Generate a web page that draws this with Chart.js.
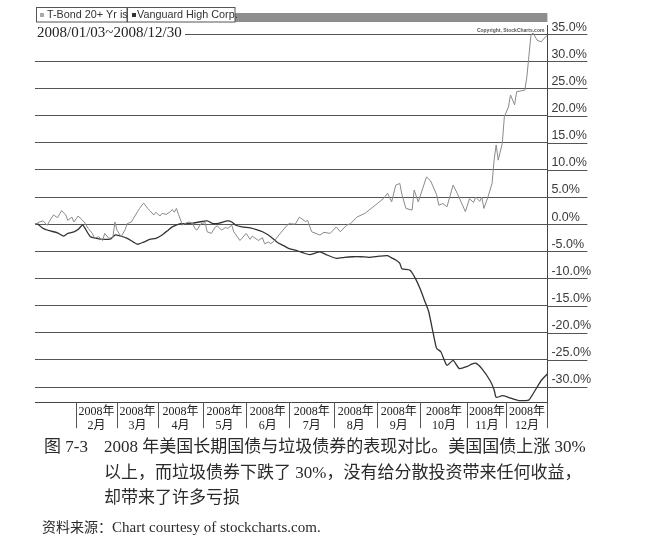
<!DOCTYPE html>
<html>
<head>
<meta charset="utf-8">
<script src="https://cdn.jsdelivr.net/npm/chart.js@4.4.1/dist/chart.umd.min.js"></script>
<style>
  body { margin: 0; background: #fff; width: 668px; height: 552px; overflow: hidden; position: relative; }
  #wrap { position: absolute; left: 0; top: 0; width: 668px; height: 440px; }
  .cap { position: absolute; font-family: "Liberation Serif", "Noto Sans CJK SC", serif; color: #2a2a2a; }
  #fig { left: 44px; top: 434px; font-size: 17px; line-height: 25.5px; }
  #txt { left: 104px; top: 434px; font-size: 17px; line-height: 25.5px; }
  #src { left: 42px; top: 517px; font-size: 15px; line-height: 20px; }
  #src span { font-size: 14px; }
</style>
</head>
<body>
<div id="wrap"><canvas id="myChart" width="668" height="440"></canvas></div>
<div class="cap" id="fig">图 7-3</div>
<div class="cap" id="txt">2008 年美国长期国债与垃圾债券的表现对比。美国国债上涨 30%<br>以上，而垃圾债券下跌了 30%，没有给分散投资带来任何收益，<br>却带来了许多亏损</div>
<div class="cap" id="src"><span>资料来源：</span>Chart courtesy of stockcharts.com.</div>
<script>
// trading-day index (0 = 2008/01/03, 250 = 2008/12/30) and % change
const tbondDay = [0, 1, 2, 4, 6, 7, 9, 11, 13, 15, 16, 18, 19, 21, 23, 24, 26, 28, 29, 31, 33, 34, 36, 38, 39, 40,
  42, 44, 45, 47, 50, 51, 53, 55, 56, 58, 59, 61, 62, 64, 66, 67, 68, 69, 70, 72, 73, 75, 77, 78, 79, 81, 83,
  84, 86, 88, 89, 91, 93, 94, 96, 97, 100, 101, 103, 105, 106, 109, 111, 112, 114, 115, 117, 119, 121, 123,
  124, 127, 129, 132, 133, 135, 139, 141, 144, 147, 149, 152, 154, 157, 161, 163, 167, 170, 172, 174, 176,
  178, 179, 181, 184, 185, 187, 191, 193, 196, 197, 199, 201, 204, 206, 210, 212, 214, 215, 217, 218, 219,
  221, 223, 224, 225, 226, 228, 229, 231, 232, 234, 235, 239, 240, 242, 243, 245, 247, 249, 250];
const tbondPct = [0, 0.1, 0.4, 0.6, -0.2, 0.5, 1.7, 1.2, 2.5, 1.7, 0.7, 1.3, 0.4, 1.5, 0.8, 0.4, -0.8, -1.7, -2.6,
  -2.3, -3.0, -1.7, -2.6, -2.4, 0.4, -1.1, -2.3, -1.0, 0.1, 0.4, 2.3, 2.9, 3.9, 2.9, 2.5, 1.7, 2.2, 1.5, 2.0,
  1.8, 2.3, 2.7, 2.2, 2.9, 1.8, -0.2, 0.1, 0.4, 0.1, -0.8, -1.1, 0.1, 0.3, -1.4, -1.7, -0.5, -0.3, -1.1, -0.6,
  -0.8, -0.2, -1.4, -3.0, -2.6, -1.7, -2.8, -2.2, -3.0, -2.5, -3.6, -3.3, -3.6, -3.0, -2.0, -1.1, -0.2, 0.1,
  0.0, 1.3, 0.5, 0.7, -1.4, -2.0, -1.5, -1.7, -0.5, -1.4, -0.2, 0.1, 1.3, 2.0, 2.6, 3.8, 4.7, 5.7, 4.1, 7.2,
  7.5, 5.5, 2.9, 2.6, 6.3, 4.1, 8.7, 8.0, 5.4, 3.5, 3.8, 3.2, 7.2, 5.7, 2.3, 4.7, 4.0, 5.0, 4.2, 5.0, 2.9,
  5.0, 7.5, 11.8, 14.6, 11.8, 14.9, 19.8, 21.6, 23.8, 22.0, 24.4, 24.7, 27.2, 34.9, 35.2, 33.9, 33.6, 34.5, 34.8];

const hyDay = [0, 1, 4, 7, 11, 14, 16, 19, 21, 23, 24, 27, 30, 33, 37, 39, 41, 45, 48, 50, 53, 56, 59, 62, 65, 67,
  71, 74, 77, 80, 84, 87, 90, 94, 96, 98, 101, 105, 108, 111, 115, 118, 121, 124, 128, 131, 134, 139, 142, 147,
  151, 155, 159, 163, 168, 172, 174, 176, 178, 179, 183, 186, 188, 190, 192, 193, 195, 196, 198, 201, 204, 207,
  211, 213, 215, 218, 222, 224, 225, 228, 231, 234, 236, 239, 241, 245, 247, 250];
const hyPct = [0, 0.1, -0.8, -1.2, -1.6, -2.2, -1.7, -1.4, -1.0, -0.2, -0.5, -2.3, -2.6, -2.8, -2.7, -2.0, -2.1,
  -2.6, -3.3, -3.7, -3.3, -2.8, -2.6, -2.0, -1.1, -0.5, 0.1, 0.1, 0.2, 0.4, 0.6, 0.1, 0.2, 0.6, 0.4, -0.2, -0.5,
  -0.7, -1.0, -1.4, -2.3, -3.3, -3.9, -4.5, -4.9, -5.3, -5.6, -5.1, -5.6, -6.3, -6.1, -6.0, -6.0, -6.1, -5.9,
  -5.8, -6.2, -6.6, -7.2, -8.2, -8.5, -10.3, -12.0, -14.0, -16.0, -17.7, -21.4, -22.9, -23.5, -26.0, -25.1,
  -26.6, -26.2, -25.8, -25.6, -26.6, -28.8, -30.5, -31.9, -31.6, -31.9, -32.3, -32.5, -32.5, -32.4, -30.0,
  -28.8, -27.6];

// month boundaries (first trading day of each month) and labels
const monthStarts = [20, 40, 60, 82, 103, 124, 146, 167, 188, 211, 230, 250];
const monthLabels = ['2月', '3月', '4月', '5月', '6月', '7月', '8月', '9月', '10月', '11月', '12月'];
const monthMids = monthLabels.map((m, i) => (monthStarts[i] + monthStarts[i + 1]) / 2);
const yTickValues = [-30, -25, -20, -15, -10, -5, 0, 5, 10, 15, 20, 25, 30, 35];

const serif = '"Liberation Serif", "Noto Sans CJK SC", serif';
const sans = '"Liberation Sans", Arial, sans-serif';

// gridline run-out under the % labels and the month separators below the plot
const axisExtras = {
  id: 'axisExtras',
  beforeDatasetsDraw(chart) {
    const c = chart.ctx;
    const area = chart.chartArea;
    const y = chart.scales.y;
    const x = chart.scales.x;
    c.save();
    c.strokeStyle = '#555';
    c.lineWidth = 1;
    c.beginPath();
    yTickValues.forEach(v => {
      const py = Math.round(y.getPixelForValue(v)) + 0.5;
      c.moveTo(area.right, py);
      c.lineTo(area.right + 40, py);
    });
    monthStarts.forEach(v => {
      const px = Math.round(x.getPixelForValue(v)) + 0.5;
      c.moveTo(px, area.bottom);
      c.lineTo(px, area.bottom + 26);
    });
    c.stroke();
    c.restore();
  }
};

// legend boxes, date range and copyright note on top of the chart
const headerPlugin = {
  id: 'header',
  afterDraw(chart) {
    const c = chart.ctx;
    const area = chart.chartArea;
    c.save();
    c.fillStyle = '#8e8e8e';
    c.fillRect(235, 13, area.right - 235, 9);
    c.fillStyle = '#fff';
    c.fillRect(36, 8, 91, 14);
    c.fillRect(127, 8, 108, 14);
    c.strokeStyle = '#555';
    c.lineWidth = 1;
    c.strokeRect(36.5, 7.5, 90.5, 14.5);
    c.strokeRect(127.5, 7.5, 107.5, 14.5);
    c.fillStyle = '#aaa';
    c.fillRect(40, 13, 4, 4);
    c.fillStyle = '#333';
    c.fillRect(132, 13, 4, 4);
    c.font = '10.8px ' + sans;
    c.textBaseline = 'middle';
    c.fillStyle = '#333';
    c.fillText('T-Bond 20+ Yr is', 47, 15.5);
    c.fillText('Vanguard High Corp.', 137, 15.5);
    // date range with white background over the top gridline
    c.fillStyle = '#fff';
    c.fillRect(area.left, 25, 150, 16);
    c.font = '15px ' + serif;
    c.fillStyle = '#222';
    c.fillText('2008/01/03~2008/12/30', 37, 33);
    c.font = 'bold 5px ' + sans;
    c.textAlign = 'right';
    c.fillStyle = '#555';
    c.fillText('Copyright, StockCharts.com', area.right - 3, 31);
    c.restore();
  }
};

const ctx = document.getElementById('myChart').getContext('2d');
const myChart = new Chart(ctx, {
  type: 'line',
  data: {
    datasets: [{
      label: 'T-Bond 20+ Yr is',
      data: tbondDay.map((d, i) => ({ x: d, y: tbondPct[i] })),
      borderColor: '#8a8a8a',
      borderWidth: 1,
      pointRadius: 0,
      tension: 0
    }, {
      label: 'Vanguard High Corp.',
      data: hyDay.map((d, i) => ({ x: d, y: hyPct[i] })),
      borderColor: '#333',
      borderWidth: 1.3,
      pointRadius: 0,
      tension: 0.2
    }]
  },
  options: {
    responsive: false,
    animation: false,
    layout: { padding: { left: 35, top: 25, right: 73, bottom: 5 } },
    plugins: {
      legend: { display: false },
      tooltip: { enabled: false }
    },
    scales: {
      x: {
        type: 'linear',
        min: 0,
        max: 250,
        afterBuildTicks: axis => {
          axis.ticks = monthMids.map(v => ({ value: v }));
        },
        ticks: {
          autoSkip: false,
          maxRotation: 0,
          padding: 2,
          color: '#222',
          font: { family: serif, size: 12 },
          callback: (v, i) => ['2008年', monthLabels[i]]
        },
        grid: { display: false, drawTicks: false },
        border: { display: true, color: '#444' }
      },
      y: {
        position: 'right',
        min: -32.8,
        max: 36.7,
        afterBuildTicks: axis => {
          axis.ticks = yTickValues.map(v => ({ value: v }));
        },
        ticks: {
          padding: 4,
          labelOffset: -7,
          color: '#3a3a3a',
          font: { family: sans, size: 12.5 },
          callback: v => v.toFixed(1) + '%'
        },
        grid: { color: '#555', lineWidth: 1, drawTicks: false },
        border: { display: true, color: '#444' }
      }
    }
  },
  plugins: [axisExtras, headerPlugin]
});
</script>
</body>
</html>
